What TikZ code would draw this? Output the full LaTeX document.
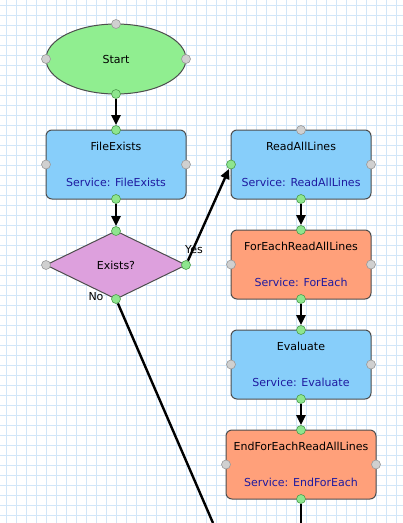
\documentclass[tikz,border=0pt]{standalone}
\usepackage{fontspec}
\setmainfont{DejaVu Sans}
\usetikzlibrary{shapes.geometric, arrows.meta, positioning}
\definecolor{gridblue}{HTML}{D2E6F8}
\definecolor{startgreen}{HTML}{90EE90}
\definecolor{taskblue}{HTML}{87CEFA}
\definecolor{loopsalmon}{HTML}{FFA07A}
\definecolor{decplum}{HTML}{DDA0DD}
\definecolor{svcblue}{HTML}{1E1AA0}
\definecolor{edgegray}{HTML}{4D4D4D}
\definecolor{portgray}{HTML}{D0D0D0}
\definecolor{portgreen}{HTML}{8EE58E}
\tikzset{
  % griglia di sfondo
  gridline/.style={gridblue, line width=0.8pt},
  % nodo iniziale
  startnode/.style={ellipse, draw=edgegray, line width=1pt, fill=startgreen,
    minimum width=140pt, minimum height=70pt, inner sep=0pt, outer sep=0pt,
    font=\fontsize{11pt}{13pt}\selectfont},
  % riquadro di un'attivita
  task/.style={draw=edgegray, line width=1pt, rounded corners=6pt, fill=taskblue,
    minimum width=140pt, minimum height=69pt, inner sep=0pt, outer sep=0pt,
    align=center, font=\fontsize{11pt}{13pt}\selectfont},
  loopbox/.style={task, fill=loopsalmon},
  % decisione
  decision/.style={diamond, aspect=2, draw=edgegray, line width=1pt, fill=decplum,
    minimum width=140pt, minimum height=68pt, inner sep=0pt, outer sep=0pt,
    font=\fontsize{11pt}{13pt}\selectfont},
  % punti di connessione
  port/.style={circle, draw=gray!80, fill=portgray, line width=0.6pt,
    minimum size=9pt, inner sep=0pt},
  live/.style={port, draw=green!45!black!70, fill=portgreen},
  % collegamenti
  flow/.style={line width=2.4pt, -{Triangle[length=10pt, width=9pt]}},
  wire/.style={line width=2.4pt},
  lbl/.style={font=\fontsize{11pt}{13pt}\selectfont, inner sep=0pt},
}
\newcommand{\svc}[1]{\textcolor{svcblue}{#1}}

\begin{document}
\begin{tikzpicture}[x=1pt, y=-1pt, node distance=31pt]
  \useasboundingbox (0,0) rectangle (403,523);
  \fill[white] (0,0) rectangle (403,523);
  \foreach \gx in {6,16,...,396} \draw[gridline] (\gx,0) -- (\gx,523);
  \foreach \gy in {5,15,...,515} \draw[gridline] (0,\gy) -- (403,\gy);

  \node[startnode] (start) at (116,59) {Start};
  \node[task, below=36pt of start] (fileexists) {FileExists\\[23pt]\svc{Service: FileExists}};
  \node[decision, below=32pt of fileexists] (exists) {Exists?};
  \node[task, right=45pt of fileexists] (readall) {ReadAllLines\\[23pt]\svc{Service: ReadAllLines}};
  \node[loopbox, below=of readall] (foreach) {ForEachReadAllLines\\[23pt]\svc{Service: ForEach}};
  \node[task, below=of foreach] (evaluate) {Evaluate\\[23pt]\svc{Service: Evaluate}};
  \node[loopbox, minimum width=150pt, below=of evaluate] (endforeach) {EndForEachReadAllLines\\[23pt]\svc{Service: EndForEach}};
  \coordinate (noend) at (213,523);
  \coordinate (loopend) at (endforeach.south |- noend);

  \foreach \n/\a/\s in {start/north/port, start/west/port, start/east/port, start/south/live,
      fileexists/north/live, fileexists/west/port, fileexists/east/port, fileexists/south/live,
      exists/north/live, exists/west/port, exists/east/live, exists/south/live,
      readall/north/port, readall/west/live, readall/east/port, readall/south/live,
      foreach/north/live, foreach/west/port, foreach/east/port, foreach/south/live,
      evaluate/north/live, evaluate/west/port, evaluate/east/port, evaluate/south/live,
      endforeach/north/live, endforeach/west/port, endforeach/east/port, endforeach/south/live}
    \node[\s] (\n-\a) at (\n.\a) {};

  \draw[flow] (start-south) -- (fileexists-north);
  \draw[flow] (fileexists-south) -- (exists-north);
  \draw[flow] (exists-east) -- (readall-west);
  \draw[wire] (exists-south) -- (noend);
  \draw[flow] (readall-south) -- (foreach-north);
  \draw[flow] (foreach-south) -- (evaluate-north);
  \draw[flow] (evaluate-south) -- (endforeach-north);
  \draw[wire] (endforeach-south) -- (loopend);

  \node[lbl] (yes) at ([xshift=8pt, yshift=15pt]exists-east) {Yes};
  \node[lbl] (no) at ([xshift=-20pt, yshift=2pt]exists-south) {No};
\end{tikzpicture}
\end{document}
